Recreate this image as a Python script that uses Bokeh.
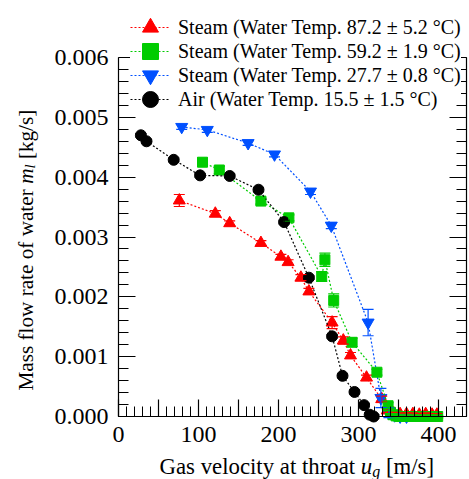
import numpy as np
from bokeh.plotting import figure
from bokeh.models import (Range1d, LinearAxis, SingleIntervalTicker, PrintfTickFormatter,
                          Whisker, TeeHead, ColumnDataSource, Legend, LegendItem, Label)
from bokeh.embed import file_html
from bokeh.resources import INLINE

# ---------------- data ----------------
red_x = [76, 121, 139, 178, 203, 212, 228, 238, 267, 281, 290, 310, 329, 336, 344, 352, 360, 368, 376, 384, 392, 398]
red_y = [0.00361, 0.00339, 0.00323, 0.00290, 0.00267, 0.00258, 0.00232, 0.00209, 0.00157, 0.00127, 0.00102,
         0.00065, 0.00029, 0.00010, 0.00005, 0.00004, 0.00004, 0.00004, 0.00003, 0.00004, 0.00003, 0.00003]
red_e = [0.00010, 0.00005, 0.00004, 0.00004, 0.00004, 0.00004, 0.00005, 0.00005, 0.00010, 0.00006, 0.00005,
         0.00004, 0.00005, 0.00003, 0.00002, 0.00002, 0.00002, 0.00002, 0.00002, 0.00002, 0.00002, 0.00002]

green_x = [105, 126, 178, 213, 254, 258, 269, 292, 323, 337, 340, 343, 347, 351, 355, 359, 363, 367, 371,
           375, 379, 383, 387, 391, 395, 399]
green_y = [0.00425, 0.00412, 0.00360, 0.00332, 0.00234, 0.00262, 0.00194, 0.00124, 0.00074, 0.00018, 0.00007,
           0.00003, 0.00001, 0.0, 0.0, 0.0, 0.0, 0.0, 0.0, 0.0, 0.0, 0.0, 0.0, 0.0, 0.0, 0.0]
green_e = [0.00007, 0.00006, 0.00005, 0.00005, 0.00008, 0.00011, 0.00011, 0.00007, 0.00005, 0.00005, 0.00003,
           0.00002, 0.00002, 0.00002, 0.00002, 0.00002, 0.00002, 0.00002, 0.00002, 0.00002, 0.00002, 0.00002,
           0.00002, 0.00002, 0.00002, 0.00002]

blue_x = [79, 111, 162, 195, 240, 266, 312, 328, 338, 345, 352, 360]
blue_y = [0.00484, 0.00479, 0.00457, 0.00438, 0.00376, 0.00319, 0.00157, 0.00031, 0.00006, 0.00002, 0.0, 0.0]
blue_e = [0.00004, 0.00004, 0.00004, 0.00004, 0.00005, 0.00005, 0.00022, 0.00016, 0.00008, 0.00003, 0.00002, 0.00002]

air_x = [28, 35, 69, 102, 139, 175, 207, 238, 267, 280, 295, 307, 314, 319]
air_y = [0.00470, 0.00460, 0.00429, 0.00403, 0.00402, 0.00379, 0.00325, 0.00232, 0.00134, 0.00068, 0.00041,
         0.00019, 0.00003, 0.0]
air_e = [0.00003] * 14

labels = ["Steam (Water Temp. 87.2 ± 5.2 °C)",
          "Steam (Water Temp. 59.2 ± 1.9 °C)",
          "Steam (Water Temp. 27.7 ± 0.8 °C)",
          "Air (Water Temp. 15.5 ± 1.5 °C)"]
x_tick_labels = {0: "0", 50: "", 100: "100", 150: "", 200: "200", 250: "", 300: "300", 350: "", 400: "400"}
x_axis_min, x_axis_max = 0, 435
y_axis_min, y_axis_max = 0.0, 0.006

FONT = "Liberation Serif"
W, H = 469, 479
# frame fills the canvas; the axes are pinned at data positions
px_per_x = 0.8
px_per_y = 359 / 0.006
left_px, bottom_px = 118, 63
x_range = Range1d(-left_px / px_per_x, (W - left_px) / px_per_x)
y_range = Range1d(-bottom_px / px_per_y, (H - bottom_px) / px_per_y)

p = figure(width=W, height=H, x_range=x_range, y_range=y_range,
           output_backend="svg", toolbar_location=None, x_axis_type=None, y_axis_type=None,
           min_border=0, min_border_left=0, min_border_right=0, min_border_top=0, min_border_bottom=0)
p.outline_line_color = None
p.xgrid.visible = False
p.ygrid.visible = False
p.background_fill_color = "white"
p.border_fill_color = "white"


def style_axis(ax, show_labels):
    ax.major_tick_in = 17
    ax.major_tick_out = 0
    ax.minor_tick_in = 10
    ax.minor_tick_out = 0
    ax.axis_line_color = "black"
    ax.major_tick_line_color = "black"
    ax.minor_tick_line_color = "black"
    ax.axis_line_width = 1.2
    ax.major_tick_line_width = 1.2
    ax.minor_tick_line_width = 1.0
    ax.major_label_text_font = FONT
    ax.major_label_text_color = "black"
    if show_labels:
        ax.major_label_text_font_size = "24px"
        ax.major_label_standoff = 10
    else:
        ax.major_label_text_font_size = "0px"
        ax.major_label_standoff = 0


xb = LinearAxis(ticker=SingleIntervalTicker(interval=50, num_minor_ticks=5),
                major_label_overrides=x_tick_labels, fixed_location=y_axis_min,
                bounds=(x_axis_min, x_axis_max))
style_axis(xb, True)
p.add_layout(xb, "below")

yl = LinearAxis(ticker=SingleIntervalTicker(interval=0.001, num_minor_ticks=5),
                formatter=PrintfTickFormatter(format="%.3f"), fixed_location=x_axis_min,
                bounds=(y_axis_min, y_axis_max))
style_axis(yl, True)
p.add_layout(yl, "left")

yr = LinearAxis(ticker=SingleIntervalTicker(interval=0.001, num_minor_ticks=5),
                fixed_location=x_axis_max, bounds=(y_axis_min, y_axis_max))
style_axis(yr, False)
p.add_layout(yr, "right")

series = [
    (red_x, red_y, red_e, "#ff0000", "triangle", 12),
    (green_x, green_y, green_e, "#00cc00", "square", 10),
    (blue_x, blue_y, blue_e, "#0050ff", "inverted_triangle", 12),
    (air_x, air_y, air_e, "#000000", "circle", 11),
]
draw_order = [0, 2, 1, 3]
items = [None] * 4
for i in draw_order:
    xs, ys, es, col, mk, sz = series[i]
    src = ColumnDataSource(dict(x=xs, y=ys,
                                lo=[a - b for a, b in zip(ys, es)],
                                hi=[a + b for a, b in zip(ys, es)]))
    lr = p.line("x", "y", source=src, line_color=col, line_dash="2 2", line_width=1.2)
    w = Whisker(base="x", lower="lo", upper="hi", source=src, line_color=col, line_width=1.2,
                upper_head=TeeHead(size=11, line_color=col, line_width=1.2),
                lower_head=TeeHead(size=11, line_color=col, line_width=1.2), level="glyph")
    p.add_layout(w)
    sr = p.scatter("x", "y", source=src, marker=mk, size=sz, fill_color=col, line_color=col)
    items[i] = LegendItem(label=labels[i], renderers=[lr, sr])

# legend rows 1 & 3 and rows 2 & 4 interleaved (lets markers be large at a 24px pitch)
leg_common = dict(glyph_width=40, glyph_height=40, label_height=40, spacing=8, padding=0, margin=0,
                  label_standoff=8, label_text_font=FONT, label_text_font_size="20px",
                  label_text_color="black", border_line_color=None)
legA = Legend(items=[items[0], items[2]], location=(130, H - 95),
              background_fill_color="white", background_fill_alpha=1.0, **leg_common)
legB = Legend(items=[items[1], items[3]], location=(130, H - 119),
              background_fill_alpha=0.0, **leg_common)
p.add_layout(legA, "center")
p.add_layout(legB, "center")

# axis titles as separate text pieces (italic symbols with subscripts)
fx = 22.8
x0, yb = 159, H - 466
parts_x = [
    ("Gas velocity at throat", 0.0, 0.0, fx, "normal"),
    ("u", 8.832, 0.0, fx, "italic"),
    ("g", 9.332, -0.22, fx * 0.7, "italic"),
    ("[m/s]", 9.932, 0.0, fx, "normal"),
]
for t, off, dy, fs, st in parts_x:
    p.add_layout(Label(x=x0 + off * fx, y=yb + dy * fx, x_units="screen", y_units="screen", text=t,
                       text_font=FONT, text_font_size=f"{fs:.1f}px", text_font_style=st,
                       text_baseline="alphabetic", text_align="left", text_color="black"))

fy = 21.2
xl, y0 = 25, H - 390
parts_y = [
    ("Mass flow rate of water", 0.0, 0.0, fy, "normal"),
    ("m", 9.747, 0.0, fy, "italic"),
    ("l", 10.469, 0.22, fy * 0.7, "italic"),
    ("[kg/s]", 10.914, 0.0, fy, "normal"),
]
for t, off, dx, fs, st in parts_y:
    p.add_layout(Label(x=xl + dx * fy, y=y0 + off * fy, x_units="screen", y_units="screen", text=t,
                       angle=np.pi / 2, text_font=FONT, text_font_size=f"{fs:.1f}px", text_font_style=st,
                       text_baseline="alphabetic", text_align="left", text_color="black"))

open("out.html", "w").write(file_html(p, INLINE))
